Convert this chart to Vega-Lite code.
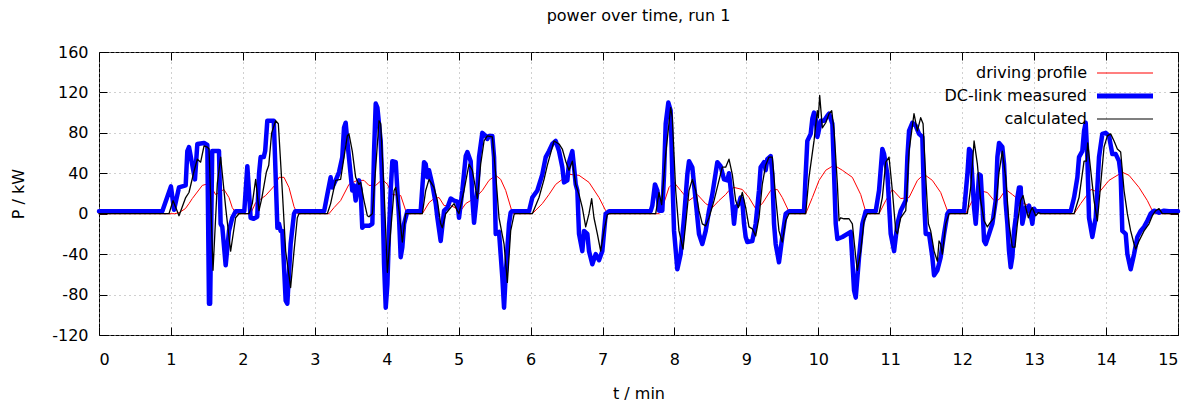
{
  "$schema": "https://vega.github.io/schema/vega-lite/v6.json",
  "width": 1079,
  "height": 283,
  "autosize": {"type": "none"},
  "padding": {"left": 99, "top": 52, "right": 17, "bottom": 70},
  "background": "white",
  "title": {"text": "power over time, run 1", "fontSize": 16, "fontWeight": "normal", "color": "black", "offset": 20},
  "datasets": {
    "profile": [
      {"t":0,"P":0},{"t":1.05,"P":0},{"t":1.112,"P":1},{"t":1.2,"P":5},{"t":1.251,"P":10},{"t":1.297,"P":15},{"t":1.436,"P":28},{"t":1.53,"P":30},{"t":1.621,"P":19},{"t":1.737,"P":24},{"t":1.807,"P":16},{"t":1.853,"P":6},{"t":1.899,"P":1},{"t":1.92,"P":0},{"t":2.108,"P":0},{"t":2.178,"P":11},{"t":2.317,"P":18},{"t":2.456,"P":29},{"t":2.502,"P":36},{"t":2.572,"P":36},{"t":2.641,"P":26},{"t":2.711,"P":7},{"t":2.757,"P":0},{"t":3.197,"P":0},{"t":3.267,"P":6},{"t":3.359,"P":13},{"t":3.475,"P":29},{"t":3.591,"P":33},{"t":3.684,"P":33},{"t":3.753,"P":28},{"t":3.847,"P":28},{"t":3.939,"P":34},{"t":4.009,"P":29},{"t":4.078,"P":19},{"t":4.194,"P":18},{"t":4.264,"P":3},{"t":4.31,"P":0},{"t":4.495,"P":0},{"t":4.588,"P":11},{"t":4.657,"P":15},{"t":4.727,"P":16},{"t":4.797,"P":8},{"t":4.889,"P":8},{"t":4.95,"P":6},{"t":5.02,"P":2},{"t":5.098,"P":10},{"t":5.237,"P":16},{"t":5.329,"P":23},{"t":5.422,"P":33},{"t":5.515,"P":38},{"t":5.584,"P":34},{"t":5.654,"P":23},{"t":5.746,"P":1},{"t":5.77,"P":0},{"t":6.024,"P":0},{"t":6.163,"P":10},{"t":6.256,"P":19},{"t":6.349,"P":29},{"t":6.441,"P":34},{"t":6.534,"P":39},{"t":6.673,"P":38},{"t":6.812,"P":31},{"t":6.951,"P":16},{"t":7.044,"P":3},{"t":7.09,"P":0},{"t":7.785,"P":0},{"t":7.855,"P":11},{"t":7.924,"P":26},{"t":7.994,"P":31},{"t":8.086,"P":23},{"t":8.202,"P":13},{"t":8.318,"P":19},{"t":8.434,"P":10},{"t":8.526,"P":6},{"t":8.619,"P":13},{"t":8.712,"P":19},{"t":8.758,"P":23},{"t":8.828,"P":26},{"t":8.943,"P":24},{"t":9.036,"P":16},{"t":9.129,"P":5},{"t":9.221,"P":10},{"t":9.337,"P":23},{"t":9.43,"P":24},{"t":9.499,"P":16},{"t":9.592,"P":2},{"t":9.62,"P":0},{"t":9.824,"P":0},{"t":9.917,"P":16},{"t":10.01,"P":33},{"t":10.103,"P":43},{"t":10.219,"P":48},{"t":10.334,"P":43},{"t":10.473,"P":36},{"t":10.589,"P":19},{"t":10.659,"P":2},{"t":10.69,"P":0},{"t":10.844,"P":0},{"t":10.937,"P":13},{"t":11.029,"P":24},{"t":11.145,"P":15},{"t":11.261,"P":16},{"t":11.377,"P":33},{"t":11.47,"P":39},{"t":11.585,"P":33},{"t":11.701,"P":21},{"t":11.794,"P":3},{"t":11.82,"P":0},{"t":12.049,"P":0},{"t":12.141,"P":13},{"t":12.234,"P":23},{"t":12.35,"P":21},{"t":12.443,"P":13},{"t":12.512,"P":14},{"t":12.605,"P":24},{"t":12.697,"P":19},{"t":12.836,"P":11},{"t":12.975,"P":6},{"t":13.045,"P":3},{"t":13.09,"P":0},{"t":13.555,"P":0},{"t":13.647,"P":10},{"t":13.74,"P":19},{"t":13.79,"P":24},{"t":13.902,"P":21},{"t":14.041,"P":33},{"t":14.226,"P":41},{"t":14.319,"P":38},{"t":14.458,"P":26},{"t":14.574,"P":13},{"t":14.643,"P":3},{"t":14.69,"P":0},{"t":15,"P":0}
    ],
    "measured": [
      {"t":0,"P":2.5},{"t":0.88,"P":2.5},{"t":1.0,"P":27},{"t":1.043,"P":4},{"t":1.112,"P":26},{"t":1.205,"P":28},{"t":1.228,"P":62},{"t":1.251,"P":66},{"t":1.334,"P":34},{"t":1.367,"P":69},{"t":1.46,"P":70},{"t":1.506,"P":68},{"t":1.529,"P":-89},{"t":1.545,"P":-89},{"t":1.574,"P":62},{"t":1.668,"P":62},{"t":1.691,"P":-10},{"t":1.714,"P":-13},{"t":1.761,"P":-51},{"t":1.807,"P":-17},{"t":1.853,"P":-4},{"t":1.9,"P":2.5},{"t":2.02,"P":2.5},{"t":2.062,"P":47},{"t":2.108,"P":-4},{"t":2.15,"P":-5},{"t":2.2,"P":-3},{"t":2.224,"P":39},{"t":2.247,"P":56},{"t":2.29,"P":56},{"t":2.31,"P":62},{"t":2.34,"P":92},{"t":2.43,"P":92},{"t":2.48,"P":-14},{"t":2.502,"P":-10},{"t":2.525,"P":-17},{"t":2.548,"P":-17},{"t":2.595,"P":-86},{"t":2.618,"P":-89},{"t":2.664,"P":-30},{"t":2.711,"P":0},{"t":2.73,"P":2.5},{"t":3.13,"P":2.5},{"t":3.174,"P":19},{"t":3.22,"P":36},{"t":3.243,"P":26},{"t":3.29,"P":33},{"t":3.336,"P":41},{"t":3.382,"P":56},{"t":3.406,"P":85},{"t":3.429,"P":90},{"t":3.452,"P":72},{"t":3.498,"P":39},{"t":3.521,"P":23},{"t":3.545,"P":28},{"t":3.568,"P":13},{"t":3.614,"P":33},{"t":3.637,"P":23},{"t":3.66,"P":-14},{"t":3.684,"P":-12},{"t":3.754,"P":-12},{"t":3.8,"P":-10},{"t":3.824,"P":62},{"t":3.847,"P":109},{"t":3.87,"P":105},{"t":3.916,"P":72},{"t":3.939,"P":23},{"t":3.963,"P":-50},{"t":3.986,"P":-93},{"t":4.009,"P":-70},{"t":4.032,"P":-17},{"t":4.055,"P":23},{"t":4.078,"P":52},{"t":4.125,"P":51},{"t":4.148,"P":23},{"t":4.171,"P":-4},{"t":4.194,"P":-43},{"t":4.217,"P":-33},{"t":4.241,"P":-10},{"t":4.287,"P":2.5},{"t":4.472,"P":2.5},{"t":4.519,"P":51},{"t":4.542,"P":49},{"t":4.565,"P":36},{"t":4.588,"P":43},{"t":4.634,"P":29},{"t":4.681,"P":10},{"t":4.704,"P":-4},{"t":4.75,"P":-27},{"t":4.797,"P":3},{"t":4.843,"P":6},{"t":4.889,"P":15},{"t":4.936,"P":13},{"t":4.982,"P":12},{"t":5.005,"P":-4},{"t":5.051,"P":23},{"t":5.098,"P":57},{"t":5.121,"P":61},{"t":5.167,"P":52},{"t":5.19,"P":16},{"t":5.214,"P":-9},{"t":5.26,"P":23},{"t":5.283,"P":56},{"t":5.329,"P":80},{"t":5.376,"P":77},{"t":5.399,"P":74},{"t":5.422,"P":77},{"t":5.468,"P":77},{"t":5.492,"P":56},{"t":5.515,"P":-20},{"t":5.561,"P":-18},{"t":5.607,"P":-63},{"t":5.631,"P":-93},{"t":5.654,"P":-60},{"t":5.7,"P":-10},{"t":5.723,"P":1},{"t":5.74,"P":2.5},{"t":5.978,"P":2.5},{"t":6.024,"P":16},{"t":6.094,"P":23},{"t":6.163,"P":39},{"t":6.21,"P":56},{"t":6.256,"P":62},{"t":6.302,"P":69},{"t":6.349,"P":72},{"t":6.395,"P":62},{"t":6.441,"P":46},{"t":6.465,"P":31},{"t":6.511,"P":33},{"t":6.534,"P":51},{"t":6.58,"P":62},{"t":6.604,"P":46},{"t":6.627,"P":29},{"t":6.65,"P":23},{"t":6.673,"P":-20},{"t":6.719,"P":-37},{"t":6.743,"P":-17},{"t":6.789,"P":-20},{"t":6.812,"P":-37},{"t":6.858,"P":-50},{"t":6.905,"P":-40},{"t":6.951,"P":-46},{"t":6.997,"P":-37},{"t":7.044,"P":0},{"t":7.09,"P":2.5},{"t":7.669,"P":2.5},{"t":7.692,"P":8},{"t":7.729,"P":29},{"t":7.762,"P":23},{"t":7.785,"P":3},{"t":7.831,"P":3},{"t":7.855,"P":39},{"t":7.878,"P":89},{"t":7.915,"P":110},{"t":7.947,"P":102},{"t":7.97,"P":39},{"t":7.994,"P":-17},{"t":8.04,"P":-55},{"t":8.086,"P":-40},{"t":8.133,"P":-4},{"t":8.179,"P":39},{"t":8.202,"P":52},{"t":8.248,"P":46},{"t":8.295,"P":13},{"t":8.341,"P":-20},{"t":8.387,"P":-30},{"t":8.434,"P":-17},{"t":8.48,"P":3},{"t":8.526,"P":19},{"t":8.596,"P":51},{"t":8.642,"P":47},{"t":8.689,"P":34},{"t":8.735,"P":33},{"t":8.758,"P":40},{"t":8.804,"P":10},{"t":8.828,"P":-10},{"t":8.851,"P":6},{"t":8.897,"P":10},{"t":8.92,"P":16},{"t":8.943,"P":13},{"t":8.967,"P":-10},{"t":8.99,"P":-23},{"t":9.013,"P":-28},{"t":9.082,"P":-27},{"t":9.129,"P":-10},{"t":9.175,"P":23},{"t":9.198,"P":46},{"t":9.245,"P":51},{"t":9.268,"P":43},{"t":9.291,"P":54},{"t":9.337,"P":57},{"t":9.36,"P":39},{"t":9.384,"P":-10},{"t":9.407,"P":-30},{"t":9.453,"P":-48},{"t":9.499,"P":-23},{"t":9.546,"P":0},{"t":9.592,"P":2.5},{"t":9.801,"P":2.5},{"t":9.824,"P":39},{"t":9.847,"P":72},{"t":9.894,"P":79},{"t":9.917,"P":94},{"t":9.94,"P":100},{"t":9.963,"P":94},{"t":9.986,"P":76},{"t":10.0,"P":80},{"t":10.033,"P":92},{"t":10.08,"P":92},{"t":10.126,"P":97},{"t":10.149,"P":99},{"t":10.195,"P":89},{"t":10.219,"P":39},{"t":10.242,"P":-10},{"t":10.265,"P":-25},{"t":10.334,"P":-23},{"t":10.45,"P":-18},{"t":10.497,"P":-76},{"t":10.52,"P":-83},{"t":10.566,"P":-43},{"t":10.612,"P":-10},{"t":10.659,"P":2.5},{"t":10.798,"P":2.5},{"t":10.844,"P":23},{"t":10.89,"P":64},{"t":10.914,"P":59},{"t":10.96,"P":39},{"t":11.006,"P":-20},{"t":11.053,"P":-37},{"t":11.099,"P":-10},{"t":11.145,"P":3},{"t":11.215,"P":13},{"t":11.238,"P":56},{"t":11.261,"P":82},{"t":11.307,"P":90},{"t":11.354,"P":87},{"t":11.4,"P":79},{"t":11.446,"P":76},{"t":11.47,"P":13},{"t":11.493,"P":-20},{"t":11.539,"P":-20},{"t":11.585,"P":-43},{"t":11.609,"P":-61},{"t":11.655,"P":-56},{"t":11.701,"P":-43},{"t":11.748,"P":-20},{"t":11.794,"P":0},{"t":11.817,"P":2.5},{"t":12.026,"P":2.5},{"t":12.072,"P":39},{"t":12.095,"P":64},{"t":12.118,"P":62},{"t":12.165,"P":6},{"t":12.188,"P":-10},{"t":12.211,"P":13},{"t":12.234,"P":39},{"t":12.257,"P":38},{"t":12.28,"P":10},{"t":12.304,"P":-27},{"t":12.327,"P":-30},{"t":12.373,"P":-20},{"t":12.419,"P":-10},{"t":12.466,"P":13},{"t":12.489,"P":56},{"t":12.512,"P":70},{"t":12.558,"P":66},{"t":12.582,"P":49},{"t":12.605,"P":10},{"t":12.628,"P":-10},{"t":12.651,"P":-37},{"t":12.674,"P":-53},{"t":12.697,"P":-43},{"t":12.721,"P":-17},{"t":12.744,"P":-4},{"t":12.767,"P":16},{"t":12.79,"P":26},{"t":12.813,"P":26},{"t":12.836,"P":-10},{"t":12.883,"P":6},{"t":12.906,"P":3},{"t":12.929,"P":8},{"t":12.975,"P":-10},{"t":12.999,"P":5},{"t":13.022,"P":2.5},{"t":13.508,"P":2.5},{"t":13.555,"P":16},{"t":13.601,"P":36},{"t":13.624,"P":56},{"t":13.67,"P":62},{"t":13.694,"P":82},{"t":13.717,"P":90},{"t":13.74,"P":56},{"t":13.763,"P":-4},{"t":13.809,"P":-23},{"t":13.856,"P":-4},{"t":13.902,"P":56},{"t":13.948,"P":79},{"t":13.995,"P":80},{"t":14.041,"P":77},{"t":14.087,"P":59},{"t":14.134,"P":59},{"t":14.18,"P":52},{"t":14.203,"P":39},{"t":14.226,"P":-17},{"t":14.273,"P":-20},{"t":14.296,"P":-40},{"t":14.342,"P":-55},{"t":14.389,"P":-40},{"t":14.435,"P":-23},{"t":14.481,"P":-17},{"t":14.528,"P":-13},{"t":14.574,"P":-7},{"t":14.62,"P":0},{"t":14.667,"P":3},{"t":14.736,"P":1},{"t":14.806,"P":3},{"t":14.875,"P":2.5},{"t":15,"P":2.5}
    ],
    "calculated": [
      {"t":0,"P":0},{"t":0.973,"P":0},{"t":1.029,"P":13},{"t":1.112,"P":-2},{"t":1.205,"P":16},{"t":1.251,"P":21},{"t":1.321,"P":42},{"t":1.367,"P":54},{"t":1.413,"P":51},{"t":1.46,"P":67},{"t":1.506,"P":66},{"t":1.53,"P":64},{"t":1.585,"P":-56},{"t":1.645,"P":30},{"t":1.691,"P":56},{"t":1.761,"P":6},{"t":1.83,"P":-37},{"t":1.899,"P":-4},{"t":1.946,"P":0},{"t":2.085,"P":0},{"t":2.131,"P":10},{"t":2.178,"P":34},{"t":2.224,"P":3},{"t":2.262,"P":15},{"t":2.326,"P":41},{"t":2.36,"P":48},{"t":2.4,"P":80},{"t":2.456,"P":92},{"t":2.493,"P":89},{"t":2.548,"P":23},{"t":2.595,"P":-37},{"t":2.664,"P":-73},{"t":2.711,"P":-37},{"t":2.757,"P":-4},{"t":2.78,"P":0},{"t":3.174,"P":0},{"t":3.22,"P":10},{"t":3.29,"P":33},{"t":3.359,"P":34},{"t":3.406,"P":56},{"t":3.452,"P":77},{"t":3.475,"P":79},{"t":3.521,"P":62},{"t":3.568,"P":36},{"t":3.614,"P":29},{"t":3.637,"P":31},{"t":3.684,"P":13},{"t":3.73,"P":-2},{"t":3.753,"P":-3},{"t":3.8,"P":0},{"t":3.847,"P":46},{"t":3.893,"P":92},{"t":3.916,"P":89},{"t":3.963,"P":23},{"t":4.009,"P":-58},{"t":4.055,"P":-17},{"t":4.102,"P":23},{"t":4.125,"P":26},{"t":4.171,"P":3},{"t":4.217,"P":-28},{"t":4.264,"P":0},{"t":4.495,"P":0},{"t":4.542,"P":23},{"t":4.588,"P":34},{"t":4.657,"P":26},{"t":4.704,"P":13},{"t":4.75,"P":-10},{"t":4.773,"P":-14},{"t":4.82,"P":0},{"t":4.889,"P":6},{"t":4.936,"P":10},{"t":4.982,"P":3},{"t":5.005,"P":0},{"t":5.075,"P":23},{"t":5.144,"P":49},{"t":5.19,"P":43},{"t":5.26,"P":15},{"t":5.306,"P":49},{"t":5.353,"P":72},{"t":5.399,"P":77},{"t":5.468,"P":76},{"t":5.515,"P":39},{"t":5.561,"P":-4},{"t":5.631,"P":-30},{"t":5.677,"P":-68},{"t":5.723,"P":-17},{"t":5.77,"P":-1},{"t":5.78,"P":0},{"t":6.024,"P":0},{"t":6.117,"P":16},{"t":6.187,"P":34},{"t":6.233,"P":48},{"t":6.256,"P":54},{"t":6.326,"P":72},{"t":6.395,"P":69},{"t":6.441,"P":64},{"t":6.488,"P":52},{"t":6.534,"P":43},{"t":6.58,"P":52},{"t":6.627,"P":29},{"t":6.673,"P":19},{"t":6.719,"P":6},{"t":6.766,"P":-13},{"t":6.812,"P":0},{"t":6.849,"P":15},{"t":6.881,"P":-4},{"t":6.928,"P":-20},{"t":6.974,"P":-37},{"t":7.02,"P":-17},{"t":7.067,"P":-1},{"t":7.09,"P":0},{"t":7.739,"P":0},{"t":7.785,"P":21},{"t":7.822,"P":9},{"t":7.878,"P":59},{"t":7.947,"P":105},{"t":7.97,"P":95},{"t":8.017,"P":23},{"t":8.063,"P":-17},{"t":8.119,"P":-35},{"t":8.156,"P":-10},{"t":8.202,"P":23},{"t":8.248,"P":34},{"t":8.295,"P":23},{"t":8.341,"P":3},{"t":8.387,"P":-10},{"t":8.434,"P":-12},{"t":8.48,"P":-4},{"t":8.55,"P":13},{"t":8.619,"P":33},{"t":8.665,"P":46},{"t":8.712,"P":46},{"t":8.758,"P":54},{"t":8.804,"P":39},{"t":8.851,"P":13},{"t":8.888,"P":6},{"t":8.943,"P":21},{"t":8.99,"P":6},{"t":9.036,"P":-13},{"t":9.082,"P":-15},{"t":9.129,"P":-22},{"t":9.175,"P":-4},{"t":9.221,"P":29},{"t":9.268,"P":48},{"t":9.314,"P":56},{"t":9.36,"P":56},{"t":9.407,"P":16},{"t":9.453,"P":-17},{"t":9.499,"P":-28},{"t":9.546,"P":-7},{"t":9.592,"P":0},{"t":9.824,"P":0},{"t":9.87,"P":36},{"t":9.94,"P":72},{"t":9.986,"P":102},{"t":10.0,"P":95},{"t":10.019,"P":117},{"t":10.056,"P":85},{"t":10.103,"P":90},{"t":10.149,"P":99},{"t":10.186,"P":102},{"t":10.219,"P":82},{"t":10.265,"P":29},{"t":10.288,"P":-7},{"t":10.311,"P":-4},{"t":10.357,"P":-5},{"t":10.427,"P":-5},{"t":10.473,"P":-10},{"t":10.52,"P":-43},{"t":10.543,"P":-56},{"t":10.589,"P":-37},{"t":10.636,"P":-7},{"t":10.682,"P":0},{"t":10.844,"P":0},{"t":10.89,"P":16},{"t":10.937,"P":51},{"t":10.983,"P":56},{"t":11.029,"P":23},{"t":11.076,"P":-17},{"t":11.099,"P":-20},{"t":11.145,"P":-4},{"t":11.215,"P":3},{"t":11.238,"P":30},{"t":11.261,"P":62},{"t":11.33,"P":99},{"t":11.377,"P":82},{"t":11.423,"P":95},{"t":11.456,"P":89},{"t":11.493,"P":36},{"t":11.53,"P":-10},{"t":11.562,"P":-17},{"t":11.609,"P":-37},{"t":11.655,"P":-47},{"t":11.678,"P":-27},{"t":11.701,"P":-30},{"t":11.724,"P":-40},{"t":11.771,"P":-10},{"t":11.817,"P":0},{"t":12.072,"P":0},{"t":12.118,"P":26},{"t":12.165,"P":72},{"t":12.211,"P":49},{"t":12.257,"P":13},{"t":12.304,"P":-7},{"t":12.35,"P":-13},{"t":12.396,"P":-8},{"t":12.443,"P":-4},{"t":12.489,"P":23},{"t":12.512,"P":41},{"t":12.558,"P":62},{"t":12.605,"P":36},{"t":12.651,"P":-10},{"t":12.697,"P":-33},{"t":12.734,"P":-33},{"t":12.767,"P":-10},{"t":12.813,"P":13},{"t":12.846,"P":18},{"t":12.883,"P":6},{"t":12.92,"P":-4},{"t":12.952,"P":3},{"t":12.975,"P":6},{"t":13.022,"P":-2},{"t":13.059,"P":1},{"t":13.091,"P":0},{"t":13.555,"P":0},{"t":13.624,"P":16},{"t":13.694,"P":52},{"t":13.726,"P":52},{"t":13.745,"P":70},{"t":13.833,"P":13},{"t":13.879,"P":-7},{"t":13.925,"P":29},{"t":13.972,"P":66},{"t":14.018,"P":77},{"t":14.064,"P":79},{"t":14.111,"P":72},{"t":14.157,"P":64},{"t":14.203,"P":61},{"t":14.25,"P":23},{"t":14.296,"P":0},{"t":14.342,"P":-17},{"t":14.389,"P":-30},{"t":14.412,"P":-35},{"t":14.458,"P":-27},{"t":14.528,"P":-17},{"t":14.597,"P":-10},{"t":14.643,"P":-2},{"t":14.69,"P":3},{"t":14.736,"P":5},{"t":14.782,"P":0},{"t":15,"P":0}
    ]
  },
  "layer": [
    {
      "data": {"name": "profile"},
      "mark": {"type": "line", "strokeWidth": 1, "strokeJoin": "round", "strokeCap": "round"},
      "encoding": {
        "x": {
          "field": "t", "type": "quantitative",
          "scale": {"domain": [0, 15], "nice": false, "zero": false},
          "axis": {"orient": "bottom", "values": [0,1,2,3,4,5,6,7,8,9,10,11,12,13,14,15], "grid": true, "domain": false, "tickSize": -8, "labelPadding": 24, "labelExpr": "'' + datum.value", "title": "t / min", "titleY": 58, "titleBaseline": "middle"}
        },
        "y": {
          "field": "P", "type": "quantitative",
          "scale": {"domain": [-120, 160], "nice": false, "zero": false},
          "axis": {"orient": "left", "values": [-120,-80,-40,0,40,80,120,160], "grid": true, "domain": false, "tickSize": -8, "labelPadding": 19, "labelExpr": "'' + datum.value", "title": "P / kW", "titleX": -81, "titleY": 141.5, "titleAngle": -90, "titleAlign": "center", "titleBaseline": "middle"}
        },
        "color": {
          "datum": "driving profile", "type": "nominal",
          "scale": {"domain": ["driving profile", "DC-link measured", "calculated"], "range": ["#ff0000", "#0000ff", "#000000"]},
          "legend": {"orient": "none", "legendX": 990, "legendY": 13, "direction": "vertical", "title": null, "labelAlign": "right", "labelOffset": -18, "symbolType": "M0,0H7", "symbolSize": 256, "rowPadding": 5, "padding": 0, "labelFontSize": 16, "labelLimit": 400,
            "encode": {"symbols": {"update": {"strokeWidth": {"signal": "datum.value === 'DC-link measured' ? 5 : 1.2"}, "fill": {"value": "transparent"}}}}}
        }
      }
    },
    {
      "data": {"name": "measured"},
      "mark": {"type": "line", "strokeWidth": 4.5, "strokeJoin": "round", "strokeCap": "round"},
      "encoding": {
        "x": {
          "field": "t", "type": "quantitative",
          "axis": {"orient": "top", "values": [0,1,2,3,4,5,6,7,8,9,10,11,12,13,14,15], "grid": false, "domain": false, "labels": false, "tickSize": -8, "title": null}
        },
        "y": {
          "field": "P", "type": "quantitative",
          "axis": {"orient": "right", "values": [-120,-80,-40,0,40,80,120,160], "grid": false, "domain": false, "labels": false, "tickSize": -8, "title": null}
        },
        "color": {"datum": "DC-link measured", "type": "nominal",
          "legend": {"orient": "none", "legendX": 990, "legendY": 13, "direction": "vertical", "title": null, "labelAlign": "right", "labelOffset": -18, "symbolType": "M0,0H7", "symbolSize": 256, "rowPadding": 5, "padding": 0, "labelFontSize": 16, "labelLimit": 400,
            "encode": {"symbols": {"update": {"strokeWidth": {"signal": "datum.value === 'DC-link measured' ? 5 : 1.2"}, "fill": {"value": "transparent"}}}}}
        }
      }
    },
    {
      "data": {"name": "calculated"},
      "mark": {"type": "line", "strokeWidth": 1.3, "strokeJoin": "round", "strokeCap": "round"},
      "encoding": {
        "x": {"field": "t", "type": "quantitative", "axis": null},
        "y": {"field": "P", "type": "quantitative", "axis": null},
        "color": {"datum": "calculated", "type": "nominal",
          "legend": {"orient": "none", "legendX": 990, "legendY": 13, "direction": "vertical", "title": null, "labelAlign": "right", "labelOffset": -18, "symbolType": "M0,0H7", "symbolSize": 256, "rowPadding": 5, "padding": 0, "labelFontSize": 16, "labelLimit": 400,
            "encode": {"symbols": {"update": {"strokeWidth": {"signal": "datum.value === 'DC-link measured' ? 5 : 1.2"}, "fill": {"value": "transparent"}}}}}
        }
      }
    }
  ],
  "resolve": {"axis": {"x": "independent", "y": "independent"}},
  "config": {
    "font": "DejaVu Sans",
    "view": {"stroke": "#000000", "strokeWidth": 1},
    "axis": {
      "labelFont": "DejaVu Sans", "labelFontSize": 16, "labelColor": "#000000",
      "titleFont": "DejaVu Sans", "titleFontSize": 16, "titleFontWeight": "normal", "titleColor": "#000000",
      "tickColor": "#000000", "tickWidth": 1,
      "gridColor": "#a0a0a0", "gridDash": [1, 4], "gridWidth": 1, "gridOpacity": 1
    },
    "legend": {"labelFont": "DejaVu Sans", "labelColor": "#000000", "symbolOpacity": 1}
  }
}
